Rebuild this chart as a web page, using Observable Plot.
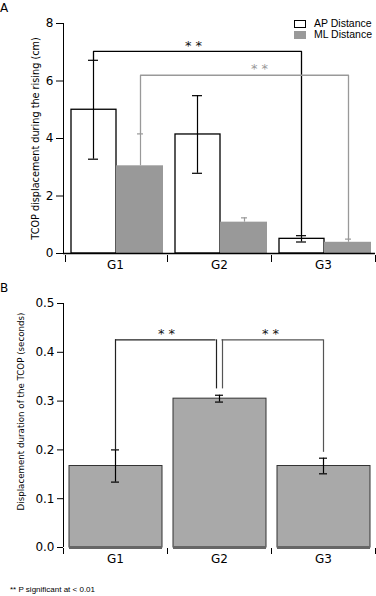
<!DOCTYPE html>
<html><head><meta charset="utf-8">
<script src="https://cdn.jsdelivr.net/npm/d3@7"></script>
<script src="https://cdn.jsdelivr.net/npm/@observablehq/plot@0.6"></script>
<style>
body{margin:0;background:#fff;}
#c{position:relative;width:376px;height:596px;overflow:hidden;}
.abs{position:absolute;white-space:nowrap;line-height:1;}
#c svg{position:absolute;left:0;}
</style></head><body><div id="c"></div>
<script>
// ---- data ----
const groups = ["G1", "G2", "G3"];
const apMean = [5.0, 4.14, 0.51];
const apErr = [1.72, 1.35, 0.11];
const mlMean = [3.05, 1.09, 0.39];
const mlErrUp = [1.11, 0.15, 0.11];
const yTicksA = [0, 2, 4, 6, 8];
const titleA = "TCOP displacement during the rising (cm)";
const legendLabels = ["AP Distance", "ML Distance"];
// significance brackets panel A: [group, value] path points
const sigAP = [["G1", 6.72], ["G1", 7.03], ["G3", 7.03], ["G3", 0.66]];
const sigML = [["G1", 4.16], ["G1", 6.2], ["G3", 6.2], ["G3", 0.5]];
const starLabel = "* *";

const durMean = [0.167, 0.305, 0.167];
const durErr = [0.033, 0.007, 0.016];
const yTicksB = [0, 0.1, 0.2, 0.3, 0.4, 0.5];
const titleB = "Displacement duration of the TCOP (seconds)";
const sigBLevel = 0.4256;
const sigBLeft = [["G1", 0.2], ["G2", 0.325]];
const sigBRight = [["G2", 0.325], ["G3", 0.195]];
const footnote = "** P significant at < 0.01";

const FONT = "'DejaVu Sans', sans-serif";
const c = document.getElementById("c");

// ---- Panel A ----
const A = groups.map((g, i) => ({g, ap: apMean[i], apE: apErr[i], ml: mlMean[i], mlE: mlErrUp[i]}));
const lineAP = sigAP.map(([g, v]) => ({g, v}));
const lineML = sigML.map(([g, v]) => ({g, v}));
const plotA = Plot.plot({
  width: 376, height: 280,
  marginLeft: 63, marginRight: 1, marginTop: 23, marginBottom: 27,
  x: {domain: groups, padding: 0, label: null},
  y: {domain: [0, 8], label: null},
  style: {fontFamily: FONT, fontSize: "12px", background: "transparent", color: "black"},
  marks: [
    Plot.barY(A, {x: "g", y: "ap", fill: "white", stroke: "black", strokeWidth: 1.3, insetLeft: 8, insetRight: 51}),
    Plot.barY(A, {x: "g", y: "ml", fill: "#999999", insetLeft: 53, insetRight: 4}),
    // error bars AP
    Plot.ruleX(A, {x: "g", y1: d => d.ap - d.apE, y2: d => d.ap + d.apE, dx: -22, stroke: "black", strokeWidth: 1.2}),
    Plot.tickY(A, {x: "g", y: d => d.ap + d.apE, dx: -22, insetLeft: 47, insetRight: 47, stroke: "black", strokeWidth: 1.2}),
    Plot.tickY(A, {x: "g", y: d => d.ap - d.apE, dx: -22, insetLeft: 47, insetRight: 47, stroke: "black", strokeWidth: 1.2}),
    // error bars ML (upper only)
    Plot.ruleX(A, {x: "g", y1: "ml", y2: d => d.ml + d.mlE, dx: 25, stroke: "#999999", strokeWidth: 1.2}),
    Plot.tickY(A, {x: "g", y: d => d.ml + d.mlE, dx: 25, insetLeft: 49, insetRight: 49, stroke: "#999999", strokeWidth: 1.2}),
    // significance brackets
    Plot.line(lineAP, {x: "g", y: "v", dx: -22, stroke: "black", strokeWidth: 1.3, curve: "linear"}),
    Plot.line(lineML, {x: "g", y: "v", dx: 25, stroke: "#999999", strokeWidth: 1.3, curve: "linear"}),
    Plot.text([starLabel], {x: () => "G2", y: () => 7.03, dx: -26, dy: -6, fill: "#111", fontSize: 13}),
    Plot.text([starLabel], {x: () => "G2", y: () => 6.2, dx: 40, dy: -6, fill: "#999999", fontSize: 13}),
    // axes
    Plot.ruleX(["G1"], {x: d => d, dx: -52, y1: 0, y2: 8, stroke: "black"}),
    Plot.ruleY([0], {stroke: "black", strokeWidth: 1.3}),
    Plot.ruleX(groups, {x: d => d, dx: 52, y1: 0, y2: 0, insetTop: 2, insetBottom: -9, stroke: "black"}),
    Plot.ruleX(["G1"], {x: d => d, dx: -50, y1: 0, y2: 0, insetTop: 2, insetBottom: -9, stroke: "black"}),
    Plot.axisY({ticks: yTicksA, tickSize: 7, tickPadding: 3, tickFormat: d3.format("d"), label: null, fontSize: 12}),
    Plot.axisX({tickSize: 0, tickPadding: 7, label: null, fontSize: 12}),
    Plot.text([titleA], {frameAnchor: "left", textAnchor: "middle", dx: -28, rotate: -90, fontSize: 9.7, fill: "black"})
  ]
});
plotA.style.top = "0px";
c.appendChild(plotA);

// ---- Panel B ----
const B = groups.map((g, i) => ({g, m: durMean[i], e: durErr[i]}));
const plotB = Plot.plot({
  width: 376, height: 316,
  marginLeft: 63, marginRight: 1, marginTop: 23, marginBottom: 49,
  x: {domain: groups, padding: 0, label: null},
  y: {domain: [0, 0.5], label: null},
  style: {fontFamily: FONT, fontSize: "12px", background: "transparent", color: "black"},
  marks: [
    Plot.barY(B, {x: "g", y: "m", fill: "#a9a9a9", stroke: "#333", strokeWidth: 1, insetLeft: 6, insetRight: 5}),
    Plot.tickY(B, {x: "g", y: 0, insetLeft: 6, insetRight: 5, stroke: "#666", strokeWidth: 3}),
    Plot.ruleX(B, {x: "g", y1: d => d.m - d.e, y2: d => d.m + d.e, stroke: "black", strokeWidth: 1.2}),
    Plot.tickY(B, {x: "g", y: d => d.m + d.e, insetLeft: 48, insetRight: 48, stroke: "black", strokeWidth: 1.2}),
    Plot.tickY(B, {x: "g", y: d => d.m - d.e, insetLeft: 48, insetRight: 48, stroke: "black", strokeWidth: 1.2}),
    // left bracket (G1 - G2)
    Plot.ruleX([sigBLeft[0]], {x: d => d[0], y1: d => d[1], y2: () => sigBLevel, stroke: "#222", strokeWidth: 1.2}),
    Plot.ruleX([sigBLeft[1]], {x: d => d[0], y1: d => d[1], y2: () => sigBLevel, dx: -3, stroke: "#222", strokeWidth: 1.2}),
    Plot.tickY([sigBLeft[0]], {x: d => d[0], y: () => sigBLevel, insetLeft: 52, insetRight: 0, stroke: "#222", strokeWidth: 1.2}),
    Plot.tickY([sigBLeft[1]], {x: d => d[0], y: () => sigBLevel, insetLeft: 0, insetRight: 55.5, stroke: "#222", strokeWidth: 1.2}),
    // right bracket (G2 - G3)
    Plot.ruleX([sigBRight[0]], {x: d => d[0], y1: d => d[1], y2: () => sigBLevel, dx: 3, stroke: "#555", strokeWidth: 1.2}),
    Plot.ruleX([sigBRight[1]], {x: d => d[0], y1: d => d[1], y2: () => sigBLevel, stroke: "#555", strokeWidth: 1.2}),
    Plot.tickY([sigBRight[0]], {x: d => d[0], y: () => sigBLevel, insetLeft: 54.5, insetRight: 0, stroke: "#555", strokeWidth: 1.2}),
    Plot.tickY([sigBRight[1]], {x: d => d[0], y: () => sigBLevel, insetLeft: 0, insetRight: 52, stroke: "#555", strokeWidth: 1.2}),
    Plot.text([starLabel], {x: () => "G1", y: () => sigBLevel, dx: 51, dy: -6, fill: "#111", fontSize: 13}),
    Plot.text([starLabel], {x: () => "G2", y: () => sigBLevel, dx: 51, dy: -6, fill: "#111", fontSize: 13}),
    // axes
    Plot.ruleX(["G1"], {x: d => d, dx: -52, y1: 0, y2: 0.5, stroke: "black"}),
    Plot.ruleX(groups, {x: d => d, dx: 52, y1: 0, y2: 0, insetTop: 1, insetBottom: -7, stroke: "black"}),
    Plot.ruleX(["G1"], {x: d => d, dx: -52, y1: 0, y2: 0, insetTop: 1, insetBottom: -7, stroke: "black"}),
    Plot.axisY({ticks: yTicksB, tickSize: 6, tickPadding: 3, tickFormat: d3.format(".1f"), label: null, fontSize: 12}),
    Plot.axisX({tickSize: 0, tickPadding: 7, label: null, fontSize: 12}),
    Plot.text([titleB], {frameAnchor: "left", textAnchor: "middle", dx: -42, dy: -14, rotate: -90, fontSize: 8.7, fill: "black"})
  ]
});
plotB.style.top = "280px";
c.appendChild(plotB);

// ---- overlays: panel letters, legend, footnote ----
function addText(txt, left, top, size, family, color) {
  const d = document.createElement("div");
  d.className = "abs";
  d.textContent = txt;
  Object.assign(d.style, {left: left + "px", top: top + "px", fontSize: size + "px", fontFamily: family, color: color || "black"});
  c.appendChild(d);
  return d;
}
addText("A", 0, 2, 12, FONT);
addText("B", 0, 282, 12, FONT);
const LEG = "'Liberation Sans', Arial, sans-serif";
const sw = [{fill: "white", border: "1.3px solid black"}, {fill: "#999999", border: "none"}];
legendLabels.forEach((lab, i) => {
  const s = document.createElement("div");
  s.className = "abs";
  Object.assign(s.style, {left: "294px", top: (20 + i * 11) + "px", width: i ? "12px" : "10px", height: i ? "8px" : "6px", background: sw[i].fill, border: sw[i].border});
  c.appendChild(s);
  addText(lab, 314, 18 + i * 11, 10.5, LEG);
});
addText(footnote, 10, 586, 8, LEG);
</script></body></html>
